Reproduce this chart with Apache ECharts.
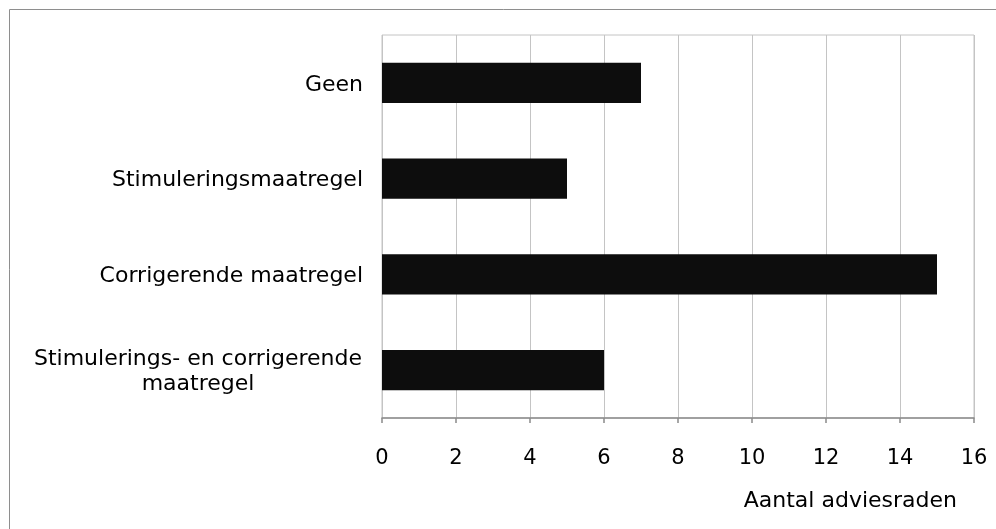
<!DOCTYPE html>
<html>
<head>
<meta charset="utf-8">
<script src="https://cdn.jsdelivr.net/npm/echarts@6/dist/echarts.min.js"></script>
<style>
  html, body { margin: 0; padding: 0; background: #ffffff; }
  #chart { width: 996px; height: 529px; }
</style>
</head>
<body>
<div id="chart"></div>
<script>
const categories = [
  'Geen',
  'Stimuleringsmaatregel',
  'Corrigerende maatregel',
  'Stimulerings- en corrigerende\nmaatregel'
];
const values = [7, 5, 15, 6];
const xMin = 0;
const xMax = 16;
const xInterval = 2;
const axisTitle = 'Aantal adviesraden';

const FONT = 'DejaVu Sans';
const chart = echarts.init(document.getElementById('chart'), null, { renderer: 'canvas' });

chart.setOption({
  backgroundColor: '#ffffff',
  animation: false,
  graphic: [{
    type: 'rect',
    shape: { x: 9.5, y: 9.5, width: 1000, height: 600 },
    style: { fill: 'none', stroke: '#8e8e8e', lineWidth: 1 },
    silent: true
  }],
  grid: {
    left: 382, right: 22, top: 35, bottom: 111,
    show: true, borderColor: '#c4c4c4', borderWidth: 1, backgroundColor: 'transparent'
  },
  xAxis: {
    type: 'value',
    min: xMin, max: xMax, interval: xInterval,
    name: axisTitle,
    nameLocation: 'end',
    nameGap: -17,
    nameTextStyle: {
      fontFamily: FONT, fontSize: 22, color: '#000000',
      align: 'right', verticalAlign: 'top', padding: [72, 0, 0, 0]
    },
    axisLine: { show: true, lineStyle: { color: '#8a8a8a', width: 1.5 } },
    axisTick: { show: true, length: 5, lineStyle: { color: '#8a8a8a', width: 1.5 } },
    axisLabel: { fontFamily: FONT, fontSize: 21, color: '#000000', margin: 30 },
    splitLine: { show: true, lineStyle: { color: '#c4c4c4', width: 1 } }
  },
  yAxis: {
    type: 'category',
    data: categories,
    inverse: true,
    axisLine: { show: false },
    axisTick: { show: false },
    splitLine: { show: false },
    axisLabel: {
      fontFamily: FONT, fontSize: 22, color: '#000000', margin: 19, lineHeight: 25,
      padding: [4, 0, 0, 0],
      formatter: function (v) {
        if (v.indexOf('\n') >= 0) {
          const parts = v.split('\n');
          return '{a|' + parts[0] + '}\n{b|' + parts[1] + '}';
        }
        return v;
      },
      rich: {
        a: { fontFamily: FONT, fontSize: 22, color: '#000000', lineHeight: 25, width: 330, align: 'center' },
        b: { fontFamily: FONT, fontSize: 22, color: '#000000', lineHeight: 25, width: 330, align: 'center' }
      }
    }
  },
  series: [{
    type: 'bar',
    data: values,
    barCategoryGap: '58%',
    itemStyle: { color: '#0d0d0d' }
  }]
});
</script>
</body>
</html>
